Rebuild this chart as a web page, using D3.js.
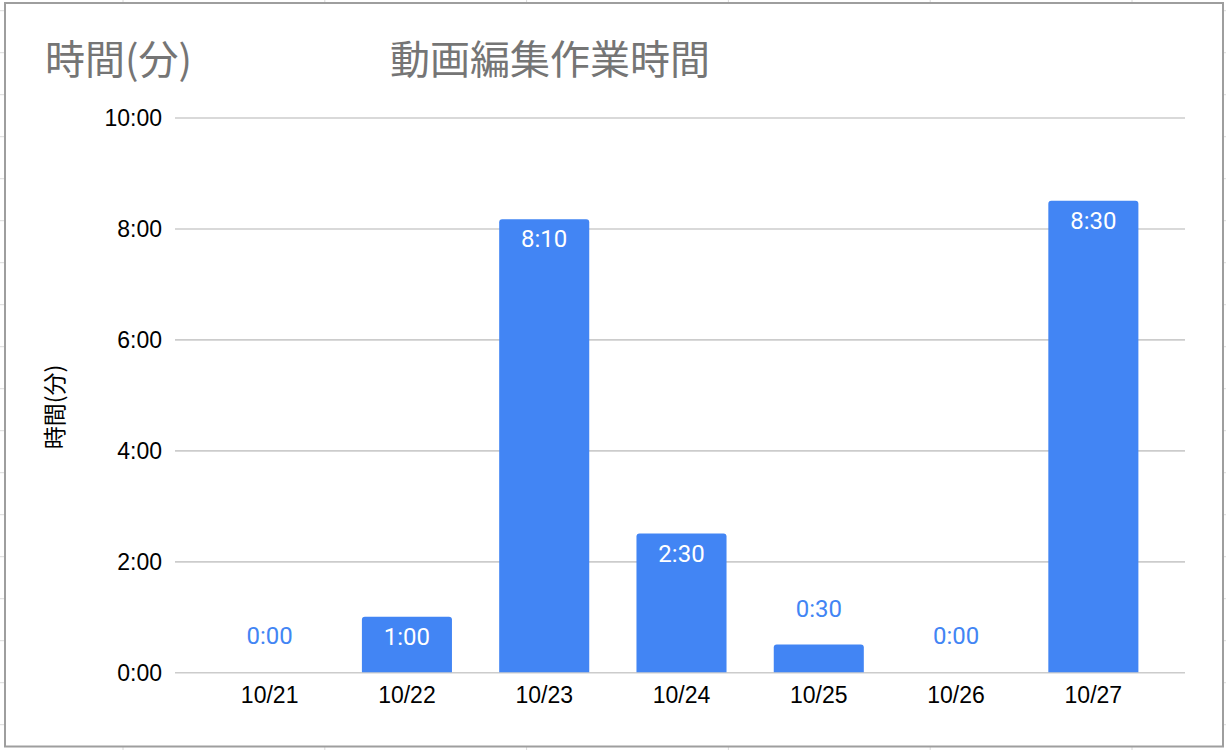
<!DOCTYPE html>
<html>
<head>
<meta charset="utf-8">
<script src="https://cdn.jsdelivr.net/npm/d3@7"></script>
<style>
  html, body { margin: 0; padding: 0; background: #fff; }
  svg { display: block; }
</style>
</head>
<body>
<svg id="chart" width="1226" height="750"></svg>
<script>
// ---- data ----
const categories = ["10/21", "10/22", "10/23", "10/24", "10/25", "10/26", "10/27"];
const minutes = [0, 60, 490, 150, 30, 0, 510];
const yTicks = [0, 120, 240, 360, 480, 600];
const chartTitle = "動画編集作業時間";
const cornerTitle = "時間(分)";
const yAxisTitle = "時間(分)";

const fmt = m => Math.floor(m / 60) + ":" + String(m % 60).padStart(2, "0");

const W = 1226, H = 750;
const svg = d3.select("#chart");
const latin = "'Liberation Sans', Arial, Helvetica, sans-serif";
const roboto = "Roboto, 'Liberation Sans', Arial, sans-serif";
const cjk = "'Noto Sans CJK JP', 'Noto Sans', sans-serif";

// spreadsheet grid peeking around the chart
const bg = svg.append("g").attr("stroke", "#dadada").attr("stroke-width", 1);
d3.range(123, W, 201.8).forEach(x => {
  bg.append("line").attr("x1", x).attr("x2", x).attr("y1", 0).attr("y2", 3);
  bg.append("line").attr("x1", x).attr("x2", x).attr("y1", 747).attr("y2", H);
});
d3.range(10.7, H, 42).forEach(y => {
  bg.append("line").attr("x1", 0).attr("x2", 4).attr("y1", y).attr("y2", y);
  bg.append("line").attr("x1", 1223).attr("x2", W).attr("y1", y).attr("y2", y);
});

// chart frame
svg.append("rect").attr("x", 5).attr("y", 3).attr("width", 1218).attr("height", 743.5)
  .attr("fill", "#fff").attr("stroke", "#9e9e9e").attr("stroke-width", 2);

// scales
const plotLeft = 175, plotRight = 1185;
const y = d3.scaleLinear().domain([0, 600]).range([672.3, 117.5]);
const x = d3.scaleBand().domain(categories).range([201, 1162])
  .paddingInner(0.344).paddingOuter(0.172);

// gridlines
const yAxis = d3.axisLeft(y).tickValues(yTicks).tickFormat(fmt)
  .tickSize(-(plotRight - plotLeft)).tickPadding(13);
const gy = svg.append("g").attr("transform", `translate(${plotLeft},0)`).call(yAxis);
gy.select(".domain").remove();
gy.selectAll(".tick line").attr("stroke", "#cccccc").attr("stroke-width", 1.6);
gy.selectAll(".tick text")
  .attr("font-family", latin).attr("font-size", 23).attr("fill", "#000")
  .attr("dy", null).attr("dominant-baseline", "central");

// x axis labels
const xAxis = d3.axisBottom(x).tickSize(0).tickPadding(15);
const gx = svg.append("g").attr("transform", `translate(0,672)`).call(xAxis);
gx.select(".domain").remove();
gx.selectAll(".tick text")
  .attr("font-family", latin).attr("font-size", 23).attr("fill", "#000")
  .attr("dy", "0.71em");

// bars with rounded top corners
const r = 3;
function barPath(d, i) {
  const x0 = x(categories[i]), w = x.bandwidth();
  const yb = y(0), yt = y(d);
  if (yb - yt < 0.5) return "";
  const rr = Math.min(r, (yb - yt));
  return `M${x0},${yb} V${yt + rr} Q${x0},${yt} ${x0 + rr},${yt} H${x0 + w - rr} Q${x0 + w},${yt} ${x0 + w},${yt + rr} V${yb} Z`;
}
svg.append("g").selectAll("path").data(minutes).join("path")
  .attr("d", barPath).attr("fill", "#4285f4");

// value labels
const inside = d => y(0) - y(d) >= 36;
svg.append("g").selectAll("text").data(minutes).join("text")
  .attr("x", (d, i) => x(categories[i]) + x.bandwidth() / 2)
  .attr("y", d => inside(d) ? y(d) + 28 : y(d) - 28)
  .attr("text-anchor", "middle")
  .attr("font-family", roboto).attr("font-size", 24).attr("font-weight", 400)
  .attr("fill", d => inside(d) ? "#ffffff" : "#4285f4")
  .text(fmt);

// titles
svg.append("text").attr("x", 45).attr("y", 74)
  .attr("font-family", cjk).attr("font-size", 40).attr("fill", "#757575")
  .text(cornerTitle);
svg.append("text").attr("x", 390).attr("y", 74)
  .attr("font-family", cjk).attr("font-size", 40).attr("fill", "#757575")
  .text(chartTitle);
svg.append("text")
  .attr("transform", "translate(53,407) rotate(-90)")
  .attr("text-anchor", "middle").attr("dominant-baseline", "central")
  .attr("font-family", cjk).attr("font-size", 23).attr("fill", "#000")
  .text(yAxisTitle);
</script>
</body>
</html>
